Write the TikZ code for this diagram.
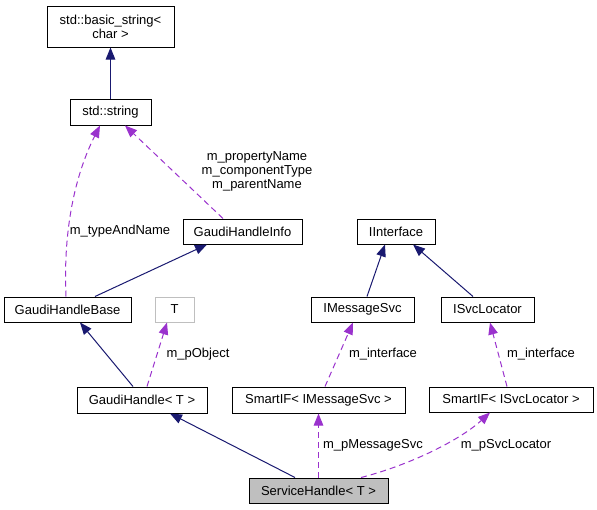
\documentclass[tikz,border=0pt]{standalone}
\usepackage{fontspec}
\setmainfont{Liberation Sans}
\usetikzlibrary{arrows.meta}
\definecolor{inhcol}{HTML}{191970}
\definecolor{usecol}{HTML}{9A32CD}
\definecolor{boxgray}{HTML}{BFBFBF}

\begin{document}
\begin{tikzpicture}[x=1pt,y=-1pt,
    every node/.style={font=\fontsize{13}{14}\selectfont},
    cls/.style={draw=black,line width=1pt,inner sep=0pt,align=center},
    inh/.style={draw=inhcol,line width=1pt,-{Triangle[length=12pt,width=9.5pt]},inhcol},
    use/.style={draw=usecol,line width=1pt,dash pattern=on 6pt off 4pt,-{Triangle[length=12pt,width=9.5pt]},usecol},
    lbl/.style={inner sep=0pt,align=center}]
    \useasboundingbox (0,0) rectangle (597,509);
    \node[cls,minimum width=127pt,minimum height=41pt] (BS) at (110.5,26.5) {std::basic\_string<\\char >};
    \node[cls,minimum width=81pt,minimum height=26pt] (S) at (110.5,112) {std::string};
    \node[cls,minimum width=119pt,minimum height=25pt] (GHI) at (242.5,231.5) {GaudiHandleInfo};
    \node[cls,minimum width=127pt,minimum height=25pt] (GHB) at (67.5,309.5) {GaudiHandleBase};
    \node[cls,draw=boxgray,minimum width=39pt,minimum height=25pt] (T) at (174.5,309.5) {T};
    \node[cls,minimum width=130pt,minimum height=26pt] (GH) at (142,400) {GaudiHandle< T >};
    \node[cls,minimum width=173pt,minimum height=26pt] (SIM) at (318.5,400) {SmartIF< IMessageSvc >};
    \node[cls,fill=boxgray,minimum width=139pt,minimum height=25pt] (SH) at (318.5,490.5) {ServiceHandle< T >};
    \node[cls,minimum width=78pt,minimum height=25pt] (II) at (396,231.5) {IInterface};
    \node[cls,minimum width=103pt,minimum height=25pt] (IMS) at (362.5,309.5) {IMessageSvc};
    \node[cls,minimum width=93pt,minimum height=25pt] (ISL) at (487.5,309.5) {ISvcLocator};
    \node[cls,minimum width=164pt,minimum height=25pt] (SIL) at (511,399.5) {SmartIF< ISvcLocator >};
    % inheritance
    \draw[inh] (S.north) -- (BS.south);
    \draw[inh] ([xshift=27.5pt]GHB.north) -- ([xshift=-35.5pt]GHI.south);
    \draw[inh] ([xshift=-9pt]GH.north) -- ([xshift=12.5pt]GHB.south);
    \draw[inh] ([xshift=-23.5pt]SH.north) -- ([xshift=28pt]GH.south);
    \draw[inh] ([xshift=4.5pt]IMS.north) -- ([xshift=-11pt]II.south);
    \draw[inh] ([xshift=-14.5pt]ISL.north) -- ([xshift=17pt]II.south);
    % usage
    \draw[use] ([xshift=-19.5pt]GHI.north) -- ([xshift=14.5pt]S.south);
    \draw[use] ([xshift=-1.5pt]GHB.north) .. controls (63,230) and (75,175) .. ([xshift=-10.5pt]S.south);
    \draw[use] ([xshift=5pt]GH.north) -- ([xshift=-7.5pt]T.south);
    \draw[use] (SH.north) -- (SIM.south);
    \draw[use] ([xshift=42.5pt]SH.north) .. controls (410,465) and (460,440) .. ([xshift=-21pt]SIL.south);
    \draw[use] ([xshift=6.5pt]SIM.north) -- ([xshift=-9.5pt]IMS.south);
    \draw[use] ([xshift=-4pt]SIL.north) -- ([xshift=2.5pt]ISL.south);
    % labels
    \node[lbl] (L1) at (257,171) {m\_propertyName\\m\_componentType\\m\_parentName};
    \node[lbl] (L2) at (120,231) {m\_typeAndName};
    \node[lbl] (L3) at (198,354) {m\_pObject};
    \node[lbl] (L4) at (373,445) {m\_pMessageSvc};
    \node[lbl] (L5) at (383,354) {m\_interface};
    \node[lbl] (L6) at (541,354) {m\_interface};
    \node[lbl] (L7) at (506,445) {m\_pSvcLocator};
\end{tikzpicture}
\end{document}
